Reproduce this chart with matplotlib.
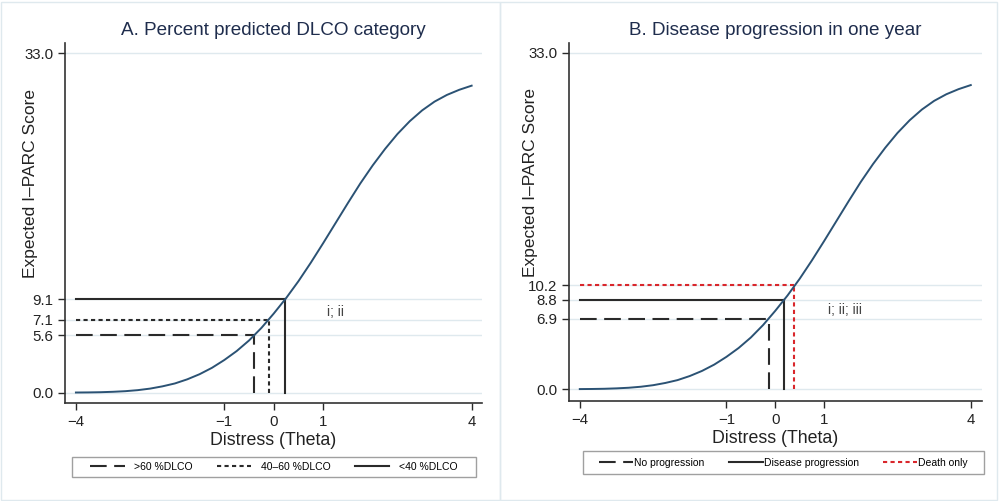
"""Expected I-PARC score curves with group reference lines (two panels)."""

import matplotlib.pyplot as plt
from matplotlib.patches import Rectangle

# test characteristic curve
theta = [-4, -3.75, -3.5, -3.25, -3, -2.75, -2.5, -2.25, -2, -1.75, -1.5, -1.25,
         -1, -0.75, -0.5, -0.25, 0, 0.25, 0.5, 0.75, 1, 1.25, 1.5, 1.75, 2,
         2.25, 2.5, 2.75, 3, 3.25, 3.5, 3.75, 4]
score = [0.02, 0.03, 0.05, 0.09, 0.15, 0.25, 0.4, 0.62, 0.9, 1.3, 1.8, 2.42,
         3.18, 4.05, 5.08, 6.3, 7.7, 9.2, 10.85, 12.65, 14.55, 16.5, 18.45, 20.35, 22.1,
         23.7, 25.15, 26.4, 27.45, 28.3, 28.95, 29.45, 29.85]

# panel A: percent predicted DLCO
dlco_labels = [">60 %DLCO", "40\u201360 %DLCO", "<40 %DLCO"]
dlco_scores = [5.6, 7.1, 9.1]
dlco_theta = [-0.39, -0.10, 0.23]

# panel B: disease progression in one year
prog_labels = ["No progression", "Disease progression", "Death only"]
prog_scores = [6.9, 8.8, 10.2]
prog_theta = [-0.12, 0.18, 0.39]

x_ticks = [-4, -1, 0, 1, 4]

plt.rcParams["font.family"] = ["Liberation Sans", "DejaVu Sans"]

CURVE = "#2b5274"
DARK = "#2a2a2a"
GRID = "#dfe9ee"
LONG_DASH = (0, (8, 3.6))
SHORT_DASH = (0, (2, 1.6))


def draw_panel(ax, title, labels, scores, thetas, styles, colors, note,
               legend_box, textpad, ylabel_x):
    for s in [0.0] + scores + [33.0]:
        ax.axhline(s, color=GRID, linewidth=1.0, zorder=0)
    ax.plot(theta, score, color=CURVE, linewidth=1.4, zorder=3)
    handles = []
    for lab, s, t, ls, c in zip(labels, scores, thetas, styles, colors):
        (h,) = ax.plot([-4, t], [s, s], color=c, linestyle=ls, linewidth=1.5, label=lab)
        ax.plot([t, t], [0, s], color=c, linestyle=ls, linewidth=1.5)
        handles.append(h)
    ax.text(1.07, 7.8, note, fontsize=10, color="#444444", va="center", ha="left")

    ax.set_xticks(x_ticks)
    ax.set_yticks([0.0] + scores + [33.0])
    ax.set_yticklabels([f"{v:.1f}" for v in [0.0] + scores + [33.0]])
    ax.tick_params(direction="out", length=5, width=1, color=DARK, labelsize=10.8,
                   labelcolor="#222222")
    for side in ("top", "right"):
        ax.spines[side].set_visible(False)
    for side in ("left", "bottom"):
        ax.spines[side].set_color("#333333")
        ax.spines[side].set_linewidth(1.2)
    ax.set_xlabel("Distress (Theta)", fontsize=12.8, color="#222222", labelpad=2)
    ax.set_ylabel("Expected I\u2013PARC Score", fontsize=12.5, color="#222222")
    ax.yaxis.set_label_coords(ylabel_x, 0.61)
    ax.set_title(title, fontsize=13.6, color="#1f2d4d", pad=6)

    # legend frame drawn separately so its size matches the reference box
    x0, y0, w, h = legend_box
    ax.add_patch(Rectangle((x0, y0), w, h, transform=ax.transAxes, fill=False,
                           edgecolor="#a0a0a0", linewidth=1.0, clip_on=False))
    ax.legend(
        handles=handles, loc="center", bbox_to_anchor=(x0 + w / 2, y0 + h / 2),
        ncol=3, fontsize=7.5, frameon=False, handlelength=3.3,
        handletextpad=textpad, columnspacing=2.3, borderaxespad=0, borderpad=0,
    )


fig = plt.figure(figsize=(9.99, 5.01), dpi=100)
fig.add_artist(Rectangle((0.001, 0.002), 0.499, 0.995, transform=fig.transFigure,
                         fill=False, edgecolor=GRID, linewidth=1.0))
fig.add_artist(Rectangle((0.501, 0.002), 0.497, 0.995, transform=fig.transFigure,
                         fill=False, edgecolor=GRID, linewidth=1.0))

ax_a = fig.add_axes([0.0651, 0.1956, 0.4174, 0.7186])
ax_a.set(xlim=(-4.22, 4.21), ylim=(-1.0, 34.0))
draw_panel(
    ax_a, "A. Percent predicted DLCO category", dlco_labels, dlco_scores, dlco_theta,
    [LONG_DASH, SHORT_DASH, "solid"], [DARK, DARK, DARK], "i; ii",
    (0.0168, -0.2056, 0.969, 0.0556), 0.95, -0.065,
)

ax_b = fig.add_axes([0.5696, 0.1996, 0.4134, 0.7146])
ax_b.set(xlim=(-4.22, 4.23), ylim=(-1.15, 33.98))
draw_panel(
    ax_b, "B. Disease progression in one year", prog_labels, prog_scores, prog_theta,
    [LONG_DASH, "solid", SHORT_DASH], [DARK, DARK, "#d9262b"], "i; ii; iii",
    (0.0339, -0.204, 0.971, 0.064), 0.1, -0.075,
)

fig.savefig("out.png", dpi=100)
